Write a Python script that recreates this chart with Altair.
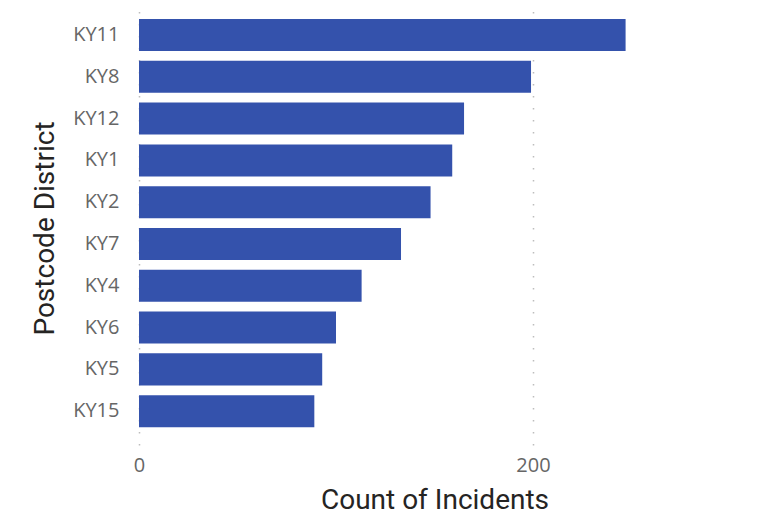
import altair as alt
import pandas as pd

districts = ["KY11", "KY8", "KY12", "KY1", "KY2", "KY7", "KY4", "KY6", "KY5", "KY15"]
counts = [247, 199, 165, 159, 148, 133, 113, 100, 93, 89]
x_ticks = [0, 200]

df = pd.DataFrame({"district": districts, "count": counts})

chart = alt.Chart(df).mark_bar(color="#3452ac").encode(
    x=alt.X(
        "count:Q",
        scale=alt.Scale(domain=[0, 300], nice=False),
        axis=alt.Axis(
            title="Count of Incidents",
            values=x_ticks,
            grid=True,
            gridColor="#bdbdbd",
            gridDash=[1.5, 10.5],
            gridWidth=1.5,
            domain=False,
            ticks=False,
            labelFlush=False,
            labelFont="Open Sans",
            labelFontSize=20,
            labelColor="#666666",
            labelPadding=10,
            titleFont="Roboto",
            titleFontSize=28,
            titleFontWeight="normal",
            titleColor="#252423",
            titleBaseline="alphabetic",
            titleY=63,
        ),
    ),
    y=alt.Y(
        "district:N",
        sort=districts,
        scale=alt.Scale(paddingInner=0.234, paddingOuter=0.309, align=0.31),
        axis=alt.Axis(
            title="Postcode District",
            domain=False,
            ticks=False,
            labelFont="Open Sans",
            labelFontSize=20,
            labelColor="#666666",
            labelPadding=20,
            titleFont="Roboto",
            titleFontSize=28,
            titleFontWeight="normal",
            titleColor="#252423",
            titleBaseline="alphabetic",
            titleX=-86,
        ),
    ),
).properties(
    width=591,
    height=434,
    autosize=alt.AutoSizeParams(type="none"),
    padding={"left": 139, "top": 11, "right": 33, "bottom": 69},
).configure_view(stroke=None)

chart.save("out.html", embed_options={"renderer": "svg", "actions": False})
